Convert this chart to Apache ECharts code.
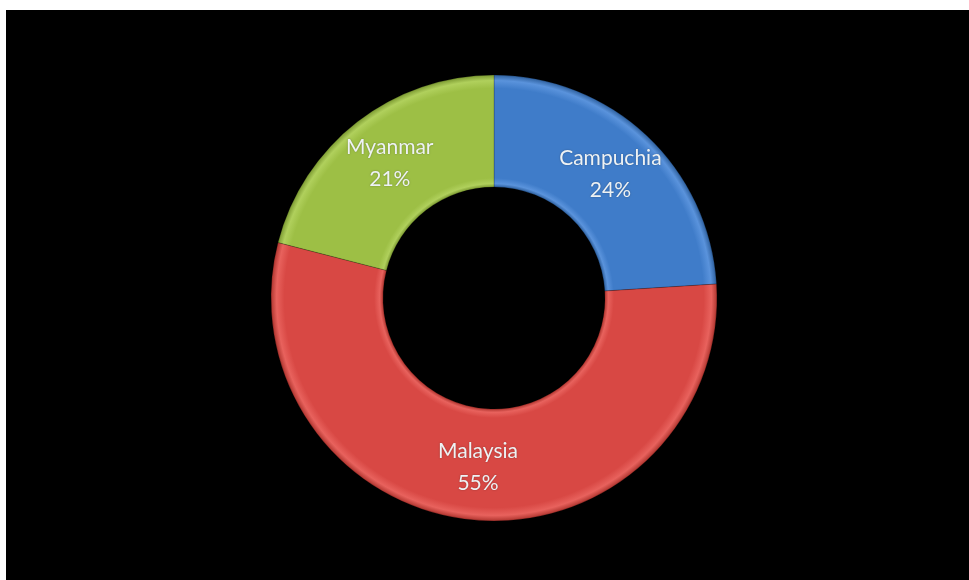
<!DOCTYPE html>
<html>
<head>
<meta charset="utf-8">
<script src="https://cdn.jsdelivr.net/npm/echarts@6/dist/echarts.min.js"></script>
<style>
  html, body { margin: 0; padding: 0; background: #ffffff; width: 969px; height: 580px; overflow: hidden; }
  #chart { position: absolute; left: 6px; top: 10px; width: 963px; height: 570px; background: #000000; }
</style>
</head>
<body>
<div id="chart"></div>
<script>
// Share of workers by country of origin
const countries = ['Campuchia', 'Malaysia', 'Myanmar'];
const shares = [24, 55, 21];
const baseColors = ['#3f7cc9', '#d84844', '#9dbf45'];
const lightColors = ['#5a93dc', '#e8625d', '#b0d05c'];
const darkColors = ['#2f619f', '#b0352f', '#7c9a32'];

const cx = 488, cy = 288, rIn = 111, rOut = 223;

function ringFill(i) {
  const inner = rIn / rOut;
  return {
    type: 'radial', x: cx, y: cy, r: rOut, global: true,
    colorStops: [
      { offset: 0, color: darkColors[i] },
      { offset: inner, color: darkColors[i] },
      { offset: inner + 0.015, color: lightColors[i] },
      { offset: inner + 0.04, color: baseColors[i] },
      { offset: 0.94, color: baseColors[i] },
      { offset: 0.975, color: lightColors[i] },
      { offset: 1, color: darkColors[i] }
    ]
  };
}

const chart = echarts.init(document.getElementById('chart'), null, { renderer: 'canvas' });
chart.setOption({
  backgroundColor: '#000000',
  animation: false,
  series: [{
    type: 'pie',
    center: [cx, cy],
    radius: [rIn, rOut],
    startAngle: 90,
    clockwise: true,
    avoidLabelOverlap: false,
    label: {
      show: true,
      position: 'inside',
      formatter: p => p.name + '\n' + p.percent.toFixed(0) + '%',
      color: '#eef2f4',
      fontFamily: 'Lato, "Open Sans", sans-serif',
      fontSize: 21,
      lineHeight: 32,
      textShadowColor: 'rgba(0,0,0,0.3)',
      textShadowBlur: 2
    },
    labelLine: { show: false },
    itemStyle: { borderColor: 'rgba(0,0,0,0.2)', borderWidth: 1 },
    emphasis: { disabled: true },
    data: countries.map((name, i) => ({
      name: name,
      value: shares[i],
      itemStyle: { color: ringFill(i) }
    }))
  }]
});
</script>
</body>
</html>
